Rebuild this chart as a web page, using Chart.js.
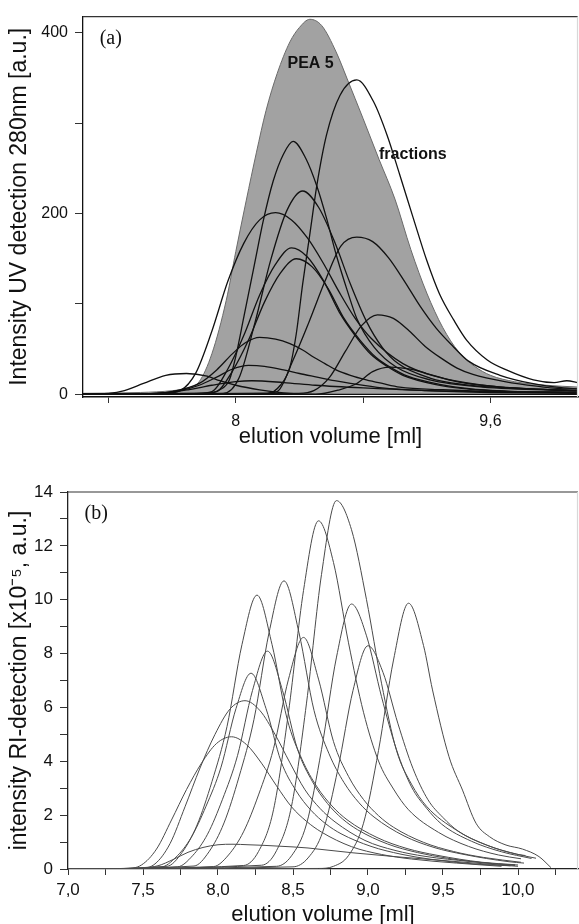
<!DOCTYPE html>
<html>
<head>
<meta charset="utf-8">
<script src="https://cdn.jsdelivr.net/npm/chart.js@4.4.1/dist/chart.umd.min.js"></script>
<style>
    html, body { margin: 0; padding: 0; background: #fff; overflow: hidden; }
    .panel { position: absolute; left: 0; width: 579px; }
    #uvBox { top: 0; height: 460px; }
    #riBox { top: 460px; height: 464px; }
</style>
</head>
<body>
<div class="panel" id="uvBox"><canvas id="uvChart"></canvas></div>
<div class="panel" id="riBox"><canvas id="riChart"></canvas></div>
<script>
// ---- (a) UV detection, [elution volume ml, intensity a.u.] ----
const uvPea5 = [[7.0,1],[7.4,2],[7.6,4],[7.7,7],[7.77,14],[7.85,45],[7.94,104],[8.0,158],[8.065,214],[8.13,268],[8.19,314],[8.26,355],[8.34,390],[8.4,406],[8.465,415],[8.54,408],[8.63,379],[8.7,349],[8.8,305],[8.9,260],[9.0,216],[9.1,160],[9.2,112],[9.3,74],[9.4,47],[9.5,31],[9.6,21],[9.75,14],[9.95,10],[10.15,8]];
const uvFraction1 = [[7.0,0],[8.2,1],[8.28,10],[8.34,30],[8.38,67],[8.42,122],[8.465,177],[8.51,232],[8.57,287],[8.655,331],[8.76,348],[8.865,324],[8.95,287],[9.03,243],[9.115,195],[9.2,148],[9.28,111],[9.37,82],[9.45,60],[9.58,38],[9.7,27],[9.87,16],[10.0,13],[10.08,15],[10.15,13]];
const uvFraction2 = [[7.0,0],[7.8,1],[7.9,5],[7.96,16],[8.0,42],[8.05,85],[8.09,120],[8.13,155],[8.17,190],[8.235,236],[8.3,266],[8.36,280],[8.44,261],[8.51,230],[8.57,195],[8.63,155],[8.7,115],[8.76,84],[8.87,52],[9.01,30],[9.22,16],[9.55,8],[10.15,4]];
const uvFraction3 = [[7.0,0],[7.92,1],[8.02,18],[8.12,79],[8.22,149],[8.32,203],[8.42,225],[8.52,207],[8.62,169],[8.72,122],[8.82,81],[8.92,52],[9.02,34],[9.22,18],[9.42,11],[9.72,7],[10.15,4]];
const uvFraction4 = [[7.0,0],[7.55,1],[7.65,4],[7.75,24],[7.85,70],[7.95,125],[8.05,167],[8.15,193],[8.25,201],[8.35,193],[8.45,173],[8.55,145],[8.65,113],[8.75,84],[8.85,62],[9.05,34],[9.25,20],[9.55,10],[9.85,6],[10.15,4]];
const uvFraction5 = [[7.0,0],[7.75,1],[7.85,3],[7.95,28],[8.05,65],[8.15,110],[8.25,144],[8.35,162],[8.45,152],[8.55,126],[8.65,91],[8.75,65],[8.85,44],[8.95,31],[9.05,21],[9.25,11],[9.45,6],[9.75,3],[10.15,2]];
const uvFraction6 = [[7.0,0],[7.78,1],[7.88,3],[7.98,26],[8.08,60],[8.18,102],[8.28,134],[8.38,150],[8.48,141],[8.58,117],[8.68,84],[8.78,60],[8.88,41],[8.98,29],[9.08,20],[9.28,11],[9.48,6],[9.78,3],[10.15,2]];
const uvFraction7 = [[7.0,0],[8.16,1],[8.26,3],[8.36,38],[8.46,80],[8.56,125],[8.66,164],[8.76,174],[8.86,169],[8.96,151],[9.06,125],[9.16,97],[9.26,73],[9.36,54],[9.46,37],[9.66,21],[9.86,12],[10.06,7],[10.15,6]];
const uvFraction8 = [[7.0,0],[8.39,1],[8.49,4],[8.59,19],[8.69,48],[8.79,76],[8.89,88],[8.99,84],[9.09,70],[9.19,53],[9.29,40],[9.39,29],[9.49,22],[9.69,14],[9.89,9],[10.09,6],[10.15,6]];
const uvFraction9 = [[7.0,0],[7.5,1],[7.6,3],[7.77,12],[7.88,27],[7.98,45],[8.06,57],[8.15,63],[8.25,61],[8.34,56],[8.42,49],[8.49,41],[8.56,34],[8.63,27],[8.72,21],[8.82,16],[8.92,12],[9.03,8],[9.3,5],[9.6,3],[10.15,2]];
const uvFraction10 = [[7.0,0],[7.5,1],[7.65,4],[7.77,10],[7.88,19],[7.98,28],[8.08,32],[8.18,31],[8.3,27],[8.4,23],[8.51,19],[8.62,15],[8.72,12],[8.92,7],[9.2,4],[9.6,2],[10.15,1]];
const uvFraction11 = [[7.0,0],[7.2,1],[7.3,4],[7.42,12],[7.56,21],[7.69,23],[7.82,20],[7.9,15],[8.0,10],[8.15,5],[8.34,1],[8.6,0],[10.15,0]];
const uvFraction12 = [[7.0,0],[8.5,0],[8.65,5],[8.76,12],[8.86,25],[8.97,30],[9.05,29],[9.12,27],[9.2,23],[9.28,19],[9.36,15],[9.45,12],[9.55,10],[9.66,8],[9.85,6],[10.15,4]];
const uvFraction13 = [[7.0,0],[7.5,1],[7.7,5],[7.85,10],[8.0,14],[8.1,15],[8.3,13],[8.5,10],[8.8,7],[9.2,4],[9.6,3],[10.15,2]];

const uvYTicks = [0, 100, 200, 300, 400];
const uvYLabelled = [0, 200, 400];
const uvXTicks = [7.2, 8.0, 8.8, 9.6];
const uvXLabels = ['', '8', '', '9,6'];

// ---- (b) RI detection, [elution volume ml, intensity x10^-5] ----
const riFraction1 = [[7.0,0],[7.4,0.02],[7.5,0.05],[7.6,0.12],[7.7,0.35],[7.8,0.62],[7.9,0.8],[8.0,0.9],[8.1,0.92],[8.2,0.9],[8.3,0.88],[8.4,0.85],[8.5,0.82],[8.6,0.78],[8.7,0.72],[8.8,0.66],[8.9,0.6],[9.0,0.55],[9.2,0.45],[9.4,0.36],[9.6,0.27],[9.8,0.18],[10.0,0.1]];
const riFraction2 = [[7.0,0],[7.39,0.02],[7.49,0.15],[7.59,0.74],[7.69,1.82],[7.79,2.95],[7.89,3.93],[7.99,4.66],[8.09,4.91],[8.19,4.62],[8.29,3.93],[8.39,3.09],[8.49,2.31],[8.59,1.77],[8.69,1.37],[8.89,0.83],[9.09,0.54],[9.29,0.37],[9.59,0.22],[9.89,0.1]];
const riFraction3 = [[7.0,0],[7.48,0.02],[7.58,0.19],[7.68,0.94],[7.78,2.31],[7.88,3.75],[7.98,5.0],[8.08,5.94],[8.18,6.25],[8.28,5.88],[8.38,5.0],[8.48,3.94],[8.58,2.94],[8.68,2.25],[8.78,1.75],[8.98,1.06],[9.18,0.69],[9.38,0.47],[9.68,0.28],[9.98,0.13]];
const riFraction4 = [[7.0,0],[7.62,0.07],[7.72,0.44],[7.82,1.16],[7.92,2.33],[8.02,3.78],[8.12,5.96],[8.22,7.27],[8.32,5.96],[8.42,4.0],[8.52,2.91],[8.62,2.18],[8.72,1.67],[8.82,1.31],[9.02,0.84],[9.22,0.55],[9.42,0.36],[9.72,0.18],[9.95,0.12]];
const riFraction5 = [[7.0,0],[7.66,0.1],[7.76,0.61],[7.86,1.63],[7.96,3.25],[8.06,5.29],[8.16,8.34],[8.26,10.17],[8.36,8.34],[8.46,5.59],[8.56,4.07],[8.66,3.05],[8.76,2.34],[8.86,1.83],[9.06,1.17],[9.26,0.76],[9.46,0.51],[9.76,0.25],[9.98,0.16]];
const riFraction6 = [[7.0,0],[7.73,0.08],[7.83,0.49],[7.93,1.29],[8.03,2.59],[8.13,4.21],[8.23,6.63],[8.33,8.09],[8.43,6.63],[8.53,4.45],[8.63,3.24],[8.73,2.43],[8.83,1.86],[8.93,1.46],[9.13,0.93],[9.33,0.61],[9.53,0.4],[9.83,0.2],[10.0,0.15]];
const riFraction7 = [[7.0,0],[7.84,0.11],[7.94,0.64],[8.04,1.71],[8.14,3.42],[8.24,5.56],[8.34,8.77],[8.44,10.7],[8.54,8.77],[8.64,5.89],[8.74,4.28],[8.84,3.21],[8.94,2.46],[9.04,1.93],[9.24,1.23],[9.44,0.8],[9.64,0.54],[9.94,0.27],[10.04,0.22]];
const riFraction8 = [[7.0,0],[7.97,0.09],[8.07,0.52],[8.17,1.38],[8.27,2.75],[8.37,4.47],[8.47,7.05],[8.57,8.6],[8.67,7.05],[8.77,4.73],[8.87,3.44],[8.97,2.58],[9.07,1.98],[9.17,1.55],[9.37,0.99],[9.57,0.65],[9.77,0.43],[10.02,0.25]];
const riFraction9 = [[7.0,0],[8.17,0.13],[8.27,0.65],[8.37,2.2],[8.47,5.82],[8.57,10.34],[8.67,12.93],[8.77,11.38],[8.87,8.4],[8.97,5.82],[9.07,4.01],[9.17,2.97],[9.27,2.2],[9.47,1.36],[9.67,0.84],[9.87,0.52],[10.02,0.38]];
const riFraction10 = [[7.0,0],[8.29,0.14],[8.39,0.68],[8.49,2.33],[8.59,6.16],[8.69,10.94],[8.79,13.68],[8.89,12.6],[8.99,10.0],[9.09,6.9],[9.19,4.4],[9.29,3.15],[9.39,2.33],[9.59,1.44],[9.79,0.89],[9.99,0.55],[10.05,0.5]];
const riFraction11 = [[7.0,0],[8.39,0.1],[8.49,0.49],[8.59,1.67],[8.69,4.43],[8.79,7.87],[8.89,9.84],[8.99,8.66],[9.09,6.4],[9.19,4.43],[9.29,3.05],[9.39,2.26],[9.49,1.67],[9.69,1.03],[9.89,0.64],[10.09,0.39]];
const riFraction12 = [[7.0,0],[8.5,0.08],[8.6,0.41],[8.7,1.41],[8.8,3.73],[8.9,6.63],[9.0,8.29],[9.1,7.3],[9.2,5.39],[9.3,3.73],[9.4,2.57],[9.5,1.91],[9.6,1.41],[9.8,0.87],[10.0,0.54],[10.12,0.4]];
const riFraction13 = [[7.0,0],[8.67,0.02],[8.77,0.1],[8.87,0.5],[8.97,1.7],[9.07,4.4],[9.17,7.76],[9.27,9.87],[9.37,8.3],[9.43,6.65],[9.54,4.17],[9.63,2.93],[9.72,1.7],[9.81,1.2],[9.92,0.89],[10.03,0.74],[10.14,0.46],[10.22,0.05]];

const riYTicks = [0, 1, 2, 3, 4, 5, 6, 7, 8, 9, 10, 11, 12, 13, 14];
const riYLabelled = [0, 2, 4, 6, 8, 10, 12, 14];
const riXTicks = [7.0, 7.25, 7.5, 7.75, 8.0, 8.25, 8.5, 8.75, 9.0, 9.25, 9.5, 9.75, 10.0, 10.25];
const riXLabels = ['7,0', '', '7,5', '', '8,0', '', '8,5', '', '9,0', '', '9,5', '', '10,0', ''];

const uvFractions = [uvFraction1, uvFraction2, uvFraction3, uvFraction4, uvFraction5, uvFraction6, uvFraction7,
    uvFraction8, uvFraction9, uvFraction10, uvFraction11, uvFraction12, uvFraction13];
const riFractions = [riFraction1, riFraction2, riFraction3, riFraction4, riFraction5, riFraction6, riFraction7,
    riFraction8, riFraction9, riFraction10, riFraction11, riFraction12, riFraction13];

const SANS = "'Liberation Sans', Arial, sans-serif";
const SERIF = "'Liberation Serif', 'Times New Roman', serif";

// helpers
const toPoints = (pairs) => pairs.map(([x, y]) => ({ x, y }));
const fixWidth = (w) => (scale) => { scale.width = w; };
const fixHeight = (h) => (scale) => { scale.height = h; };
const setTicks = (values) => (scale) => { scale.ticks = values.map(v => ({ value: v })); };

// top/right frame lines and the text written inside the plot
function panelDecor(id, labels) {
    return {
        id: id,
        afterDatasetsDraw(chart) {
            const { ctx, chartArea: a, scales } = chart;
            ctx.save();
            ctx.lineWidth = 1.2;
            ctx.strokeStyle = '#333';
            ctx.beginPath();
            ctx.moveTo(a.left, a.top);
            ctx.lineTo(a.right, a.top);
            ctx.stroke();
            ctx.strokeStyle = '#d8d8d8';
            ctx.beginPath();
            ctx.moveTo(a.right - 0.5, a.top);
            ctx.lineTo(a.right - 0.5, a.bottom);
            ctx.stroke();
            labels.forEach(l => {
                ctx.font = l.font;
                ctx.fillStyle = '#111';
                ctx.textAlign = 'left';
                ctx.textBaseline = 'middle';
                ctx.fillText(l.text, scales.x.getPixelForValue(l.x), scales.y.getPixelForValue(l.y));
            });
            ctx.restore();
        }
    };
}

const commonOptions = {
    responsive: true,
    maintainAspectRatio: false,
    animation: false,
    events: [],
    plugins: { legend: { display: false }, tooltip: { enabled: false } },
    elements: {
        point: { radius: 0 },
        line: { cubicInterpolationMode: 'monotone' }
    }
};

// ---- chart (a) ----
const uvDatasets = uvFractions.map(f => ({
    data: toPoints(f),
    borderColor: '#111',
    borderWidth: 1.3,
    fill: false,
    order: 0
}));
uvDatasets.push({
    data: toPoints(uvPea5),
    borderColor: '#6a6a6a',
    borderWidth: 1,
    backgroundColor: '#a2a2a2',
    fill: 'origin',
    order: 5
});

new Chart(document.getElementById('uvChart'), {
    type: 'line',
    data: { datasets: uvDatasets },
    plugins: [panelDecor('uvDecor', [
        { text: '(a)', x: 7.145, y: 394, font: `20px ${SERIF}` },
        { text: 'PEA 5', x: 8.325, y: 366, font: `bold 16px ${SANS}` },
        { text: 'fractions', x: 8.9, y: 265, font: `bold 16px ${SANS}` }
    ])],
    options: {
        ...commonOptions,
        layout: { padding: { top: 14, right: 1, left: 0, bottom: 0 } },
        scales: {
            x: {
                type: 'linear',
                min: 7.04,
                max: 10.15,
                afterFit: fixHeight(63),
                afterBuildTicks: setTicks(uvXTicks),
                border: { color: '#111', width: 1.5 },
                grid: { drawOnChartArea: false, tickLength: 6, tickColor: '#333' },
                ticks: {
                    color: '#111',
                    padding: 9,
                    autoSkip: false,
                    maxRotation: 0,
                    font: { family: SANS, size: 16 },
                    callback: (v) => uvXLabels[uvXTicks.indexOf(v)]
                },
                title: {
                    display: true,
                    text: 'elution volume [ml]',
                    color: '#111',
                    font: { family: SANS, size: 22, lineHeight: 1 },
                    padding: { top: 0, bottom: 12 }
                }
            },
            y: {
                type: 'linear',
                min: -3,
                max: 418,
                afterFit: fixWidth(83),
                afterBuildTicks: setTicks(uvYTicks),
                border: { color: '#111', width: 1.3 },
                grid: { drawOnChartArea: false, tickLength: 8, tickColor: '#333' },
                ticks: {
                    color: '#111',
                    padding: 7,
                    autoSkip: false,
                    font: { family: SANS, size: 16 },
                    callback: (v) => uvYLabelled.includes(v) ? String(v) : ''
                },
                title: {
                    display: true,
                    text: 'Intensity UV detection 280nm [a.u.]',
                    color: '#111',
                    font: { family: SANS, size: 23, lineHeight: 1 },
                    padding: { top: 8, bottom: 0 }
                }
            }
        }
    }
});

// ---- chart (b) ----
new Chart(document.getElementById('riChart'), {
    type: 'line',
    data: {
        datasets: riFractions.map(f => ({
            data: toPoints(f),
            borderColor: '#4a4a4a',
            borderWidth: 1,
            fill: false
        }))
    },
    plugins: [panelDecor('riDecor', [
        { text: '(b)', x: 7.11, y: 13.2, font: `20px ${SERIF}` }
    ])],
    options: {
        ...commonOptions,
        layout: { padding: { top: 32, right: 1, left: 0, bottom: 0 } },
        scales: {
            x: {
                type: 'linear',
                min: 7.0,
                max: 10.4,
                afterFit: fixHeight(55),
                afterBuildTicks: setTicks(riXTicks),
                border: { color: '#222', width: 1.3 },
                grid: { drawOnChartArea: false, tickLength: 6, tickColor: '#333' },
                ticks: {
                    color: '#111',
                    padding: 5,
                    autoSkip: false,
                    maxRotation: 0,
                    font: { family: SANS, size: 17 },
                    callback: (v) => riXLabels[riXTicks.indexOf(v)]
                },
                title: {
                    display: true,
                    text: 'elution volume [ml]',
                    color: '#111',
                    font: { family: SANS, size: 22, lineHeight: 0.8 },
                    padding: { top: 0, bottom: 0 }
                }
            },
            y: {
                type: 'linear',
                min: 0,
                max: 14,
                afterFit: fixWidth(68),
                afterBuildTicks: setTicks(riYTicks),
                border: { color: '#222', width: 1.3 },
                grid: { drawOnChartArea: false, tickLength: 8, tickColor: '#333' },
                ticks: {
                    color: '#111',
                    padding: 7,
                    autoSkip: false,
                    font: { family: SANS, size: 17 },
                    callback: (v) => riYLabelled.includes(v) ? String(v) : ''
                },
                title: {
                    display: true,
                    text: 'intensity RI-detection [x10⁻⁵, a.u.]',
                    color: '#111',
                    font: { family: SANS, size: 23, lineHeight: 1 },
                    padding: { top: 8, bottom: 0 }
                }
            }
        }
    }
});
</script>
</body>
</html>
